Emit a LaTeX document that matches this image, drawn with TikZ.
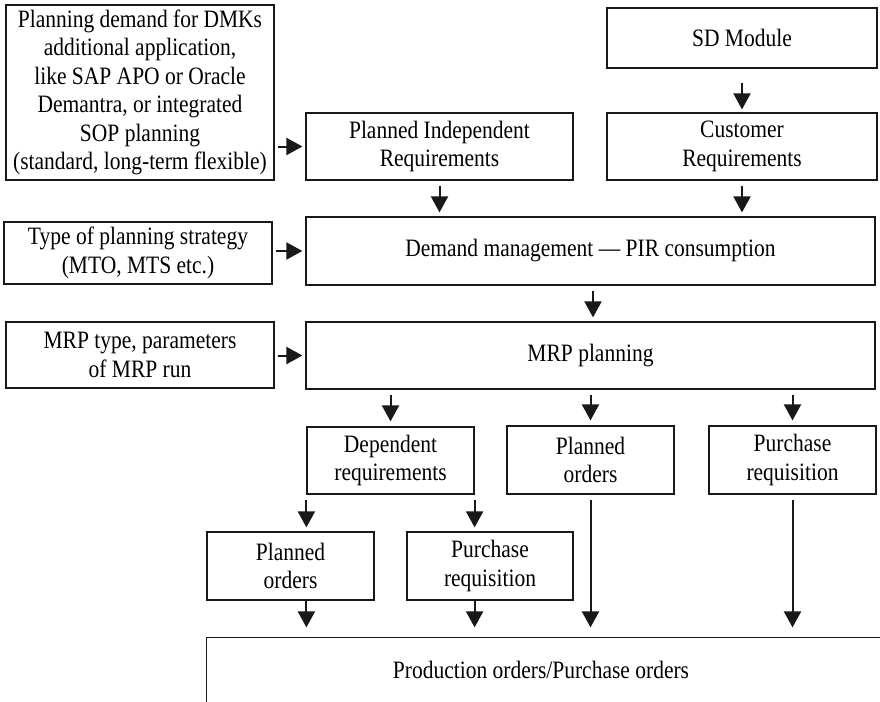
\documentclass[tikz,border=0pt]{standalone}
\usepackage{fontspec}
\setmainfont[FakeStretch=0.86]{Liberation Serif}
\usetikzlibrary{arrows.meta,calc}
\begin{document}
\begin{tikzpicture}[x=1pt,y=-1pt,
  box/.style={draw=black!90, line width=1.2pt, align=center, inner sep=0pt,
    font=\fontsize{25}{28.5}\selectfont, text=black},
  arr/.style={draw=black!90, line width=2pt, -{Triangle[length=16pt,width=17pt]},
    shorten <=5pt, shorten >=4pt}]
\useasboundingbox (0,0) rectangle (880,701);
\clip (0,0) rectangle (880,701);

\node[box, minimum width=268pt, minimum height=175pt] (plan) at (140,92.5)
  {Planning demand for DMKs\\additional application,\\like SAP APO or Oracle\\Demantra, or integrated\\SOP planning\\(standard, long-term flexible)};
\node[box, minimum width=270pt, minimum height=60pt] (sd) at (742,38) {SD Module};
\node[box, minimum width=267pt, minimum height=67pt] (pir) at (439.5,146.5) {Planned Independent\\Requirements};
\node[box, minimum width=270pt, minimum height=67pt] (cust) at (742,146.5) {Customer\\Requirements};
\node[box, minimum width=268pt, minimum height=62pt] (type) at (138,253) {Type of planning strategy\\(MTO, MTS etc.)};
\node[box, minimum width=569pt, minimum height=68pt] (demand) at (590.5,251) {Demand management --- PIR consumption};
\node[box, minimum width=268pt, minimum height=66pt] (mrptype) at (140,355) {MRP type, parameters\\of MRP run};
\node[box, minimum width=569pt, minimum height=67pt] (mrp) at (590.5,355.5) {MRP planning};
\node[box, minimum width=167pt, minimum height=67pt] (dep) at (390.5,460.5) {Dependent\\requirements};
\node[box, minimum width=167pt, minimum height=68pt] (po1) at (590.5,460) {Planned\\orders};
\node[box, minimum width=167pt, minimum height=68pt] (pr1) at (792.5,460) {Purchase\\requisition};
\node[box, minimum width=167pt, minimum height=68pt] (po2) at (290.5,566) {Planned\\orders};
\node[box, minimum width=166pt, minimum height=68pt] (pr2) at (490,566) {Purchase\\requisition};
\node[box, draw=none, minimum width=668pt, minimum height=64pt] (prod) at (541,670) {Production orders/Purchase orders};
\draw[draw=black!90, line width=1.2pt] ([xshift=20pt]prod.north east) -- (prod.north west) -- ([yshift=-20pt]prod.south west);

% arrows
\draw[arr, shorten <=3pt, shorten >=3pt] (plan.east |- pir.west) -- (pir.west);
\draw[arr, shorten <=3pt, shorten >=3pt] (type.east |- demand.west) -- (demand.west);
\draw[arr, shorten <=3pt, shorten >=3pt] (mrptype.east |- mrp.west) -- (mrp.west);
\draw[arr, shorten <=14pt, shorten >=3pt] (sd.south) -- (cust.north);
\draw[arr] (pir.south) -- (pir.south |- demand.north);
\draw[arr] (cust.south) -- (cust.south |- demand.north);
\draw[arr] ([xshift=2.5pt]demand.south) -- ([xshift=2.5pt]mrp.north);
\draw[arr, shorten >=5pt] (dep.north |- mrp.south) -- (dep.north);
\draw[arr, shorten >=5pt] (po1.north |- mrp.south) -- (po1.north);
\draw[arr, shorten >=5pt] (pr1.north |- mrp.south) -- (pr1.north);
\draw[arr] (dep.south west) -- (dep.south west |- po2.north);
\draw[arr] (dep.south east) -- (dep.south east |- pr2.north);
\draw[arr, shorten <=0pt, shorten >=10pt] (dep.south west |- po2.south) -- (dep.south west |- prod.north);
\draw[arr, shorten <=0pt, shorten >=10pt] (dep.south east |- pr2.south) -- (dep.south east |- prod.north);
\draw[arr, shorten >=10pt] (po1.south) -- (po1.south |- prod.north);
\draw[arr, shorten >=10pt] (pr1.south) -- (pr1.south |- prod.north);
\end{tikzpicture}
\end{document}
